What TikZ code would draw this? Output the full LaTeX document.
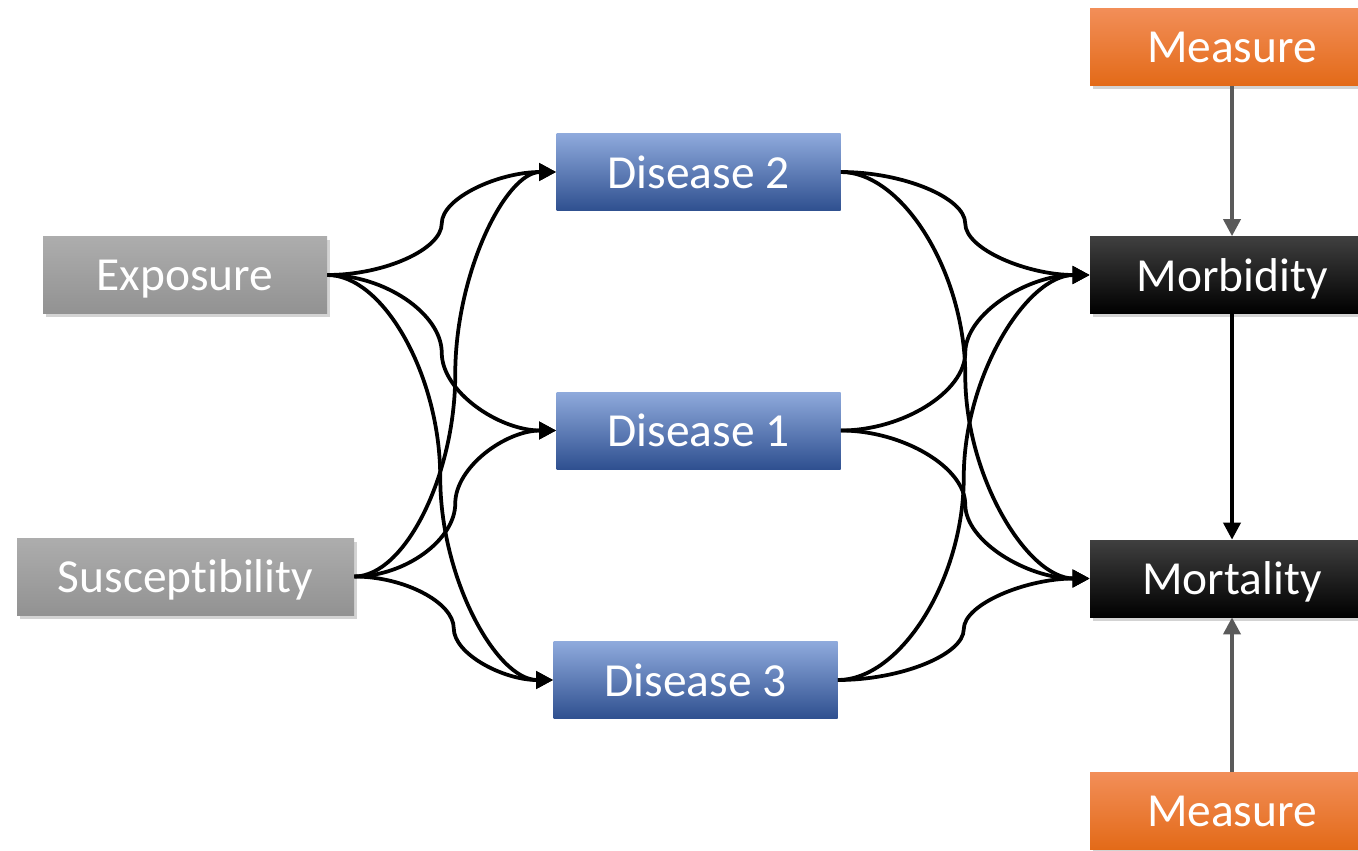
\documentclass[tikz,border=0pt]{standalone}
\usepackage{fontspec}
\setmainfont[Ligatures=NoCommon]{Carlito}
\usetikzlibrary{arrows.meta,positioning,calc,shadows}

\definecolor{greytop}{HTML}{ADADAD}
\definecolor{greybot}{HTML}{929292}
\definecolor{bluetop}{HTML}{8FAADC}
\definecolor{bluemid}{HTML}{4472C4}
\definecolor{bluebot}{HTML}{2F5090}
\definecolor{orangetop}{HTML}{F28E58}
\definecolor{orangemid}{HTML}{F07F2A}
\definecolor{orangebot}{HTML}{E36A18}
\definecolor{measline}{HTML}{5A5A5A}

\begin{document}
\begin{tikzpicture}[
  box/.style={minimum width=5.68cm, minimum height=1.54cm, inner sep=0pt,
    text depth=0pt, text=white, font=\fontsize{27}{32}\selectfont},
  shade/.style={drop shadow={opacity=0.35, shadow xshift=0.06cm, shadow yshift=-0.07cm}},
  cause/.style={box, shade, top color=greytop, bottom color=greybot},
  disease/.style={box, top color=bluetop, middle color=bluemid, bottom color=bluebot},
  outcome/.style={box, shade, top color=black!75, middle color=black, bottom color=black},
  measure/.style={box, shade, top color=orangetop, middle color=orangemid, bottom color=orangebot},
  link/.style={-{Triangle[length=0.34cm, width=0.34cm]}, line width=0.075cm, black},
  measarrow/.style={-{Triangle[length=0.34cm, width=0.34cm]}, line width=0.075cm, color=measline}
]
  \useasboundingbox (0,0) rectangle (27.16,-17);

  % left column
  \node[cause] (exp) at (3.70,-5.50) {Exposure};
  \node[cause, minimum width=6.74cm] (sus) at (3.71,-11.53) {Susceptibility};

  % diseases
  \node[disease] (d2) at (13.97,-3.44) {Disease 2};
  \node[disease] (d1) at (13.97,-8.61) {Disease 1};
  \node[disease] (d3) at (13.91,-13.60) {Disease 3};

  % outcomes and measures
  \node[outcome] (morb) at (24.64,-5.50) {Morbidity};
  \node[outcome] (mort) at (24.64,-11.57) {Mortality};
  \node[measure] (meas1) at (24.64,-0.94) {Measure};
  \node[measure] (meas2) at (24.64,-16.22) {Measure};

  % curved connectors
  \foreach \s/\t in {exp/d2, exp/d1, exp/d3, sus/d2, sus/d1, sus/d3,
                     d2/morb, d2/mort, d1/morb, d1/mort, d3/morb, d3/mort} {
    \draw[link] let \p1=(\s.east), \p2=(\t.west) in
      (\p1) .. controls ({(3*\x1+\x2)/4},\y1) and ({(\x1+\x2)/2},{(3*\y1+\y2)/4})
      .. ({(\x1+\x2)/2},{(\y1+\y2)/2})
      .. controls ({(\x1+\x2)/2},{(\y1+3*\y2)/4}) and ({(\x1+3*\x2)/4},\y2) .. (\p2);
  }

  \draw[link] (morb) -- (mort);
  \draw[measarrow] (meas1) -- (morb);
  \draw[measarrow] (meas2) -- (mort);
\end{tikzpicture}
\end{document}
